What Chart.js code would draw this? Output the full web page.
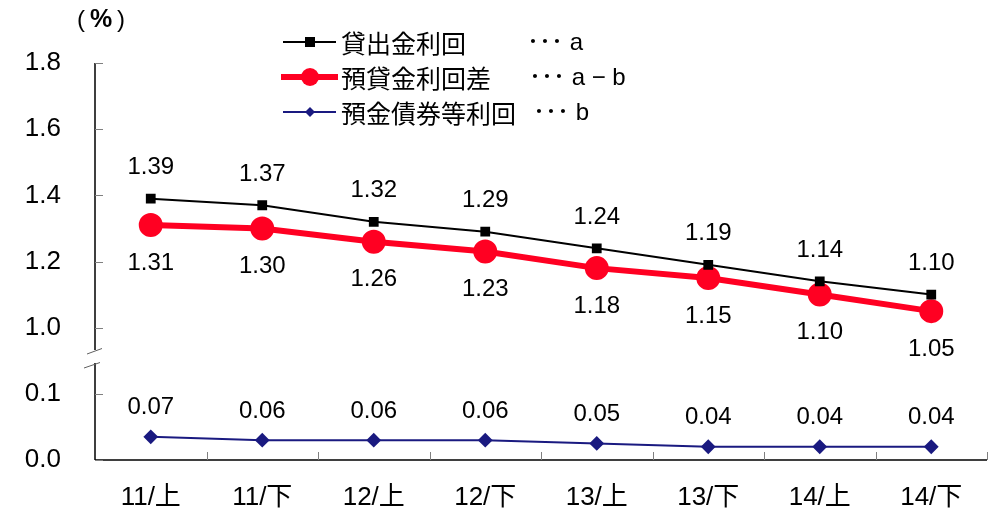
<!DOCTYPE html>
<html>
<head>
<meta charset="utf-8">
<script src="https://cdn.jsdelivr.net/npm/chart.js@4/dist/chart.umd.min.js"></script>
<style>
  html, body { margin: 0; padding: 0; background: #fff; }
  #wrap { width: 1002px; height: 512px; }
</style>
</head>
<body>
<div id="wrap"><canvas id="c" width="1002" height="512"></canvas></div>
<script>
// Half-year periods
const categories = ['11/上', '11/下', '12/上', '12/下', '13/上', '13/下', '14/上', '14/下'];
// 貸出金利回 (a)
const lendingYield = [1.39, 1.37, 1.32, 1.29, 1.24, 1.19, 1.14, 1.10];
// 預貸金利回差 (a - b)
const lendingSpread = [1.31, 1.30, 1.26, 1.23, 1.18, 1.15, 1.10, 1.05];
// 預金債券等利回 (b)
const depositYield = [0.07, 0.06, 0.06, 0.06, 0.05, 0.04, 0.04, 0.04];
// Labels shown on the broken value axis, bottom to top
const yTickLabels = ['0.0', '0.1', '1.0', '1.2', '1.4', '1.6', '1.8'];
const seriesNames = ['貸出金利回', '預貸金利回差', '預金債券等利回'];
const seriesNotes = ['･･･ a', '･･･ a − b', '･･･ b'];

const LATIN = "'Liberation Sans', 'Noto Sans CJK JP', sans-serif";
const CJK = "'Noto Sans CJK JP', 'Liberation Sans', sans-serif";

// The value axis is broken: the upper band starts at 1.0, the lower band holds the small rates.
function toAxis(v) { return v >= 0.5 ? v - 0.6 : v; }

const colors = { a: '#000000', spread: '#ff0022', b: '#1a1a80' };

const data = {
  labels: categories,
  datasets: [
    { label: seriesNames[0], data: lendingYield.map(toAxis), raw: lendingYield,
      borderColor: colors.a, backgroundColor: colors.a, borderWidth: 2,
      pointStyle: 'rect', pointRadius: 5.5, pointHoverRadius: 5.5, labelOffset: -31 },
    { label: seriesNames[1], data: lendingSpread.map(toAxis), raw: lendingSpread,
      borderColor: colors.spread, backgroundColor: colors.spread, borderWidth: 6,
      pointStyle: 'circle', pointRadius: 9, pointHoverRadius: 9, labelOffset: 38 },
    { label: seriesNames[2], data: depositYield.map(toAxis), raw: depositYield,
      borderColor: colors.b, backgroundColor: colors.b, borderWidth: 2,
      pointStyle: 'rectRot', pointRadius: 6, pointHoverRadius: 6, labelOffset: -29 }
  ]
};

// Axis lines, inner tick marks and the break symbol
const framePlugin = {
  id: 'frame',
  beforeDatasetsDraw(chart) {
    const { ctx, chartArea: a, scales: { y } } = chart;
    const breakTop = 350, breakBottom = 363;
    ctx.save();
    ctx.strokeStyle = '#000';
    ctx.lineWidth = 1.5;
    ctx.beginPath();
    ctx.moveTo(a.left, a.top); ctx.lineTo(a.left, breakTop);
    ctx.moveTo(a.left, breakBottom); ctx.lineTo(a.left, a.bottom);
    ctx.moveTo(a.left, a.bottom); ctx.lineTo(a.right, a.bottom);
    ctx.stroke();

    ctx.strokeStyle = '#808080';
    ctx.lineWidth = 1;
    ctx.beginPath();
    y.ticks.forEach((t, i) => {
      const py = Math.round(y.getPixelForTick(i)) + 0.5;
      ctx.moveTo(a.left, py); ctx.lineTo(a.left + 8, py);
    });
    const n = categories.length;
    const w = (a.right - a.left) / n;
    for (let k = 1; k <= n; k++) {
      const px = Math.round(a.left + k * w) + 0.5;
      ctx.moveTo(px, a.bottom); ctx.lineTo(px, a.bottom - 8);
    }
    ctx.stroke();

    // break slashes
    ctx.strokeStyle = '#606060';
    ctx.beginPath();
    ctx.moveTo(87, 354); ctx.lineTo(102, 348.5);
    ctx.moveTo(84, 368); ctx.lineTo(100, 362.5);
    ctx.stroke();
    ctx.restore();
  },
  afterDatasetsDraw(chart) {
    const { ctx } = chart;
    ctx.save();
    ctx.fillStyle = '#000';
    ctx.font = '24px ' + LATIN;
    ctx.textAlign = 'center';
    ctx.textBaseline = 'middle';
    chart.data.datasets.forEach((ds, di) => {
      const meta = chart.getDatasetMeta(di);
      meta.data.forEach((pt, i) => {
        ctx.fillText(ds.raw[i].toFixed(2), pt.x, pt.y + ds.labelOffset);
      });
    });
    ctx.restore();
  },
  afterDraw(chart) {
    const { ctx } = chart;
    ctx.save();
    // unit
    ctx.fillStyle = '#000';
    ctx.textBaseline = 'middle';
    ctx.textAlign = 'center';
    ctx.font = '24px ' + LATIN;
    ctx.fillText('(', 81, 20);
    ctx.fillText(')', 121, 20);
    ctx.font = 'bold 25px ' + LATIN;
    ctx.fillText('%', 101, 20);

    // legend
    ctx.textAlign = 'left';
    const rows = [42, 77, 112];
    const noteX = [527, 529, 533];
    chart.data.datasets.forEach((ds, i) => {
      const cy = rows[i];
      ctx.strokeStyle = ds.borderColor;
      ctx.lineWidth = ds.borderWidth;
      ctx.beginPath();
      ctx.moveTo(ds.borderWidth > 3 ? 281 : 283, cy);
      ctx.lineTo(ds.borderWidth > 3 ? 338 : 336, cy);
      ctx.stroke();
      ctx.fillStyle = ds.backgroundColor;
      ctx.beginPath();
      if (ds.pointStyle === 'rect') {
        ctx.fillRect(305, cy - 5, 10, 10);
      } else if (ds.pointStyle === 'circle') {
        ctx.arc(310, cy, 9, 0, Math.PI * 2); ctx.fill();
      } else {
        ctx.moveTo(310, cy - 5); ctx.lineTo(315, cy); ctx.lineTo(310, cy + 5); ctx.lineTo(305, cy); ctx.closePath(); ctx.fill();
      }
      ctx.fillStyle = '#000';
      ctx.font = '25px ' + CJK;
      ctx.fillText(ds.label, 341, cy + 1);
      ctx.font = '24px ' + LATIN;
      ctx.fillText(seriesNotes[i], noteX[i], cy + 1);
    });
    ctx.restore();
  }
};

new Chart(document.getElementById('c'), {
  type: 'line',
  data,
  plugins: [framePlugin],
  options: {
    responsive: false,
    animation: false,
    devicePixelRatio: 1,
    layout: { padding: { left: 0, right: 12, top: 63, bottom: 0 } },
    plugins: { legend: { display: false }, tooltip: { enabled: false } },
    elements: { line: { tension: 0 } },
    scales: {
      x: {
        type: 'category',
        offset: true,
        grid: { display: false, drawTicks: false },
        border: { display: false },
        ticks: { color: '#000', font: { size: 26, family: LATIN }, padding: 22, maxRotation: 0 },
        afterFit(s) { s.height = 52; }
      },
      y: {
        min: 0, max: 1.2,
        grid: { display: false, drawTicks: false },
        border: { display: false },
        ticks: {
          stepSize: 0.2, color: '#000', padding: 34,
          font: { size: 26, family: LATIN },
          callback: (v, i) => yTickLabels[i]
        },
        afterFit(s) { s.width = 95; }
      }
    }
  }
});
</script>
</body>
</html>
